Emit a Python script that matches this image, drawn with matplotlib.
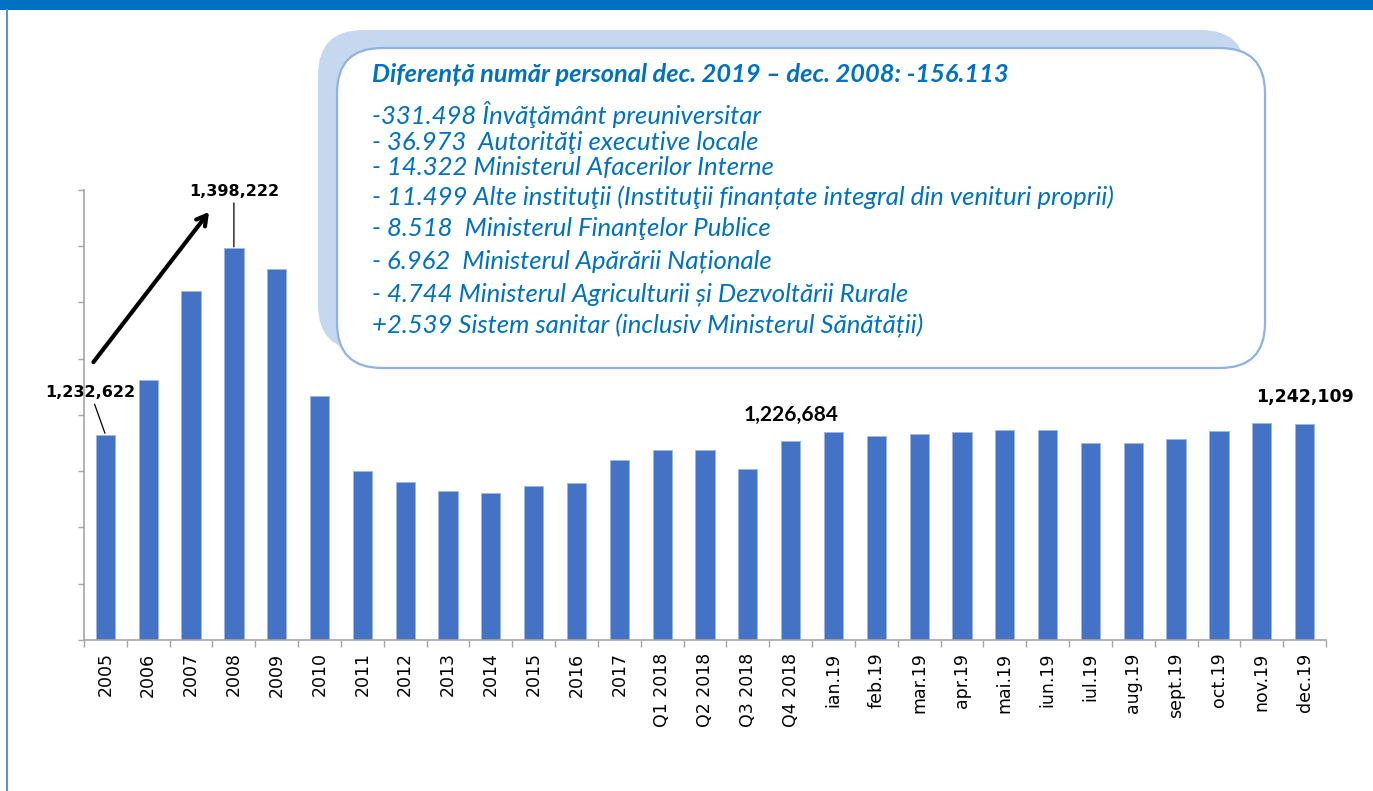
import matplotlib
matplotlib.use("Agg")
import matplotlib.pyplot as plt
from matplotlib.patches import FancyBboxPatch, Rectangle
from matplotlib.lines import Line2D
import numpy as np

# ── data ────────────────────────────────────────────────
categories = ["2005", "2006", "2007", "2008", "2009", "2010", "2011", "2012",
              "2013", "2014", "2015", "2016", "2017", "Q1 2018", "Q2 2018",
              "Q3 2018", "Q4 2018", "ian.19", "feb.19", "mar.19", "apr.19",
              "mai.19", "iun.19", "iul.19", "aug.19", "sept.19", "oct.19",
              "nov.19", "dec.19"]
personal = [1232622, 1281500, 1360500, 1398222, 1379800, 1266900, 1200200,
            1190200, 1182700, 1180400, 1186600, 1189300, 1210300, 1218900,
            1218900, 1202300, 1226684, 1234600, 1231000, 1233000, 1234600,
            1236700, 1236400, 1224800, 1225100, 1228400, 1235500, 1242600,
            1242109]
labelled = {0: "1,232,622", 3: "1,398,222", 16: "1,226,684", 28: "1,242,109"}

title_line = "Diferență număr personal dec. 2019 – dec. 2008: -156.113"
detail_lines = [
    "-331.498 Învăţământ preuniversitar",
    "- 36.973  Autorităţi executive locale",
    "- 14.322 Ministerul Afacerilor Interne",
    "- 11.499 Alte instituţii (Instituţii finanțate integral din venituri proprii)",
    "- 8.518  Ministerul Finanţelor Publice",
    "- 6.962  Ministerul Apărării Naționale",
    "- 4.744 Ministerul Agriculturii și Dezvoltării Rurale",
    "+2.539 Sistem sanitar (inclusiv Ministerul Sănătății)",
]

BAR = "#4472C4"
TXT_BLUE = "#0070C0"
FONT = ["Lato", "DejaVu Sans"]

W, H, DPI = 1373, 791, 100
fig = plt.figure(figsize=(W / DPI, H / DPI), dpi=DPI)
fig.patch.set_facecolor("white")

ax = fig.add_axes([84 / W, 1 - 640 / H, (1326 - 84) / W, 450 / H])
x = np.arange(len(categories))
ax.bar(x, personal, width=0.45, color=BAR, edgecolor="#9DB7E4", linewidth=0.6)
ax.set_xlim(-0.5, len(categories) - 0.5)
ax.set_ylim(1050000, 1450000)
ax.set_yticks(np.arange(1050000, 1450001, 50000))
ax.set_yticklabels([])
ax.set_xticks(x)
ax.set_xticklabels(categories, rotation=90, fontsize=12.5, color="black",
                   family="DejaVu Sans")
ax.set_xticks(np.arange(-0.5, len(categories), 1), minor=True)
ax.tick_params(axis="x", which="major", length=0, pad=9)
ax.tick_params(axis="x", which="minor", length=5, color="#A6A6A6", width=1)
ax.tick_params(axis="y", length=4, color="#A6A6A6", width=1)
for s in ("top", "right"):
    ax.spines[s].set_visible(False)
for s in ("left", "bottom"):
    ax.spines[s].set_color("#A6A6A6")
    ax.spines[s].set_linewidth(1.2)

# data labels
lab_style = {
    0: dict(off=(-15, 42), fs=11.5, fam="DejaVu Sans", line=True),
    3: dict(off=(0, 57), fs=11.5, fam="DejaVu Sans", line=True),
    16: dict(off=(0, 26), fs=15, fam=FONT, line=False),
    28: dict(off=(0, 27), fs=12.5, fam="DejaVu Sans", line=False),
}
for i, txt in labelled.items():
    st = lab_style[i]
    ap = dict(arrowstyle="-", color="black", lw=0.9, shrinkA=1, shrinkB=1) if st["line"] else None
    ax.annotate(txt, xy=(x[i], personal[i]), xytext=st["off"],
                textcoords="offset pixels", ha="center", va="center",
                fontsize=st["fs"], fontweight="bold", family=st["fam"],
                arrowprops=ap, annotation_clip=False)

# big growth arrow 2005 -> 2008
ax.annotate("", xy=(2.42, 1430500), xytext=(-0.28, 1297000),
            arrowprops=dict(arrowstyle="->,head_length=0.7,head_width=0.4",
                            color="black", lw=3, shrinkA=0, shrinkB=0),
            annotation_clip=False)

# frame: top band + left rule
fig.add_artist(Rectangle((0, (H - 10) / DPI), W / DPI, 10 / DPI,
                         transform=fig.dpi_scale_trans, color=TXT_BLUE, lw=0))
fig.add_artist(Line2D([7 / DPI, 7 / DPI], [0, (H - 10) / DPI],
                      transform=fig.dpi_scale_trans, color="#5B8ED6", lw=1.5))

# callout box (shadow + white box) in pixel-based inches
bx0, by_top, bw, bh = 337, 48, 928, 320
r = 0.45
shadow = FancyBboxPatch(((bx0 - 19) / DPI, (H - by_top - bh + 18) / DPI),
                        bw / DPI, bh / DPI,
                        boxstyle=f"round,pad=0,rounding_size={r}",
                        transform=fig.dpi_scale_trans,
                        facecolor="#C6D8EF", edgecolor="none")
box = FancyBboxPatch((bx0 / DPI, (H - by_top - bh) / DPI), bw / DPI, bh / DPI,
                     boxstyle=f"round,pad=0,rounding_size={r}",
                     transform=fig.dpi_scale_trans,
                     facecolor="white", edgecolor="#8DB3E2", lw=1.6)
fig.add_artist(shadow)
fig.add_artist(box)

fig.text(372 / DPI, (H - 75) / DPI, title_line, transform=fig.dpi_scale_trans,
         fontsize=18.3, fontweight="bold", fontstyle="italic", color=TXT_BLUE,
         family=FONT, va="center", ha="left")
line_y = [115, 142, 168, 198, 228, 261, 294, 326]
for yy, t in zip(line_y, detail_lines):
    fig.text(372 / DPI, (H - yy) / DPI, t, transform=fig.dpi_scale_trans,
             fontsize=18.5, fontstyle="italic", color=TXT_BLUE,
             family=FONT, va="center", ha="left")

fig.savefig("out.png", dpi=DPI)
